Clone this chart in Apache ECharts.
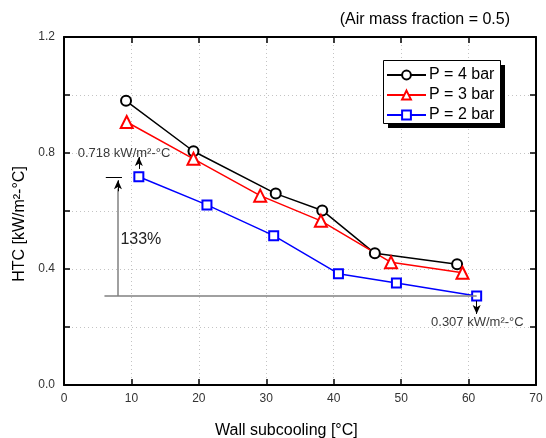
<!DOCTYPE html>
<html>
<head>
<meta charset="utf-8">
<script src="https://cdn.jsdelivr.net/npm/echarts@6/dist/echarts.min.js"></script>
<style>
  html, body { margin: 0; padding: 0; background: #fff; }
  #chart { width: 546px; height: 438px; }
</style>
</head>
<body>
<div id="chart"></div>
<script>
// Wall subcooling [°C] and heat transfer coefficient [kW/m²-°C] per pressure
const seriesNames = ['P = 4 bar', 'P = 3 bar', 'P = 2 bar'];
const subcooling4 = [9.2, 19.2, 31.4, 38.3, 46.1, 58.3];
const htc4 = [0.980, 0.806, 0.660, 0.602, 0.454, 0.416];
const subcooling3 = [9.3, 19.2, 29.1, 38.1, 48.5, 59.1];
const htc3 = [0.907, 0.780, 0.653, 0.566, 0.423, 0.387];
const subcooling2 = [11.1, 21.2, 31.1, 40.7, 49.3, 61.2];
const htc2 = [0.718, 0.621, 0.515, 0.384, 0.352, 0.307];

// Axis ranges and labelled ticks
const xRange = [0, 70];
const xStep = 10;
const yRange = [0, 1.2];
const yStep = 0.2;
const yLabelled = [0.0, 0.4, 0.8, 1.2];

// Annotation values (max / min HTC at 2 bar and relative increase)
const refHigh = htc2[0];
const refLow = htc2[htc2.length - 1];
const gainLabel = '133%';
const unitText = 'kW/m²-°C';

const pairs = (xs, ys) => xs.map((x, i) => [x, ys[i]]);

const chart = echarts.init(document.getElementById('chart'), null, { renderer: 'canvas' });

const font = 'Liberation Sans, Arial, sans-serif';
const gridLine = { show: true, lineStyle: { color: '#c4c4c4', type: [1, 3], width: 1 } };
const frameLine = { show: true, onZero: false, lineStyle: { color: '#000', width: 2 } };
const innerTick = { show: true, inside: true, length: 6, lineStyle: { color: '#000', width: 1.5 } };

const lineSeries = (name, data, color, symbol, size) => ({
  name, type: 'line', data,
  symbol, symbolSize: size,
  showAllSymbol: true,
  lineStyle: { color, width: 1.5 },
  itemStyle: { color: '#fff', borderColor: color, borderWidth: 2 },
  emphasis: { disabled: true },
  z: 3
});

const xFirst = subcooling2[0];
const xLast = subcooling2[subcooling2.length - 1];
const arrowX = xFirst - 3.1;

const plain = (p) => ({ coord: p, symbol: 'none' });
const arrowEnd = (p) => ({ coord: p, symbol: 'arrow', symbolSize: [6, 9] });

const annotations = {
  name: 'annotations', type: 'line', data: [], silent: true, z: 2,
  markLine: {
    silent: true, animation: false, symbol: ['none', 'none'],
    label: { show: false },
    emphasis: { disabled: true },
    data: [
      // baseline at the lowest 2 bar value
      [Object.assign(plain([arrowX - 2, refLow]), { lineStyle: { color: '#808080', width: 1.5, type: 'solid' } }),
       plain([xLast, refLow])],
      // short marker at the highest 2 bar value
      [Object.assign(plain([arrowX - 1.8, refHigh]), { lineStyle: { color: '#000', width: 1, type: 'solid' } }),
       plain([arrowX + 0.6, refHigh])],
      // rising gap arrow
      [Object.assign(plain([arrowX, refLow]), { lineStyle: { color: '#808080', width: 1.5, type: 'solid' } }),
       plain([arrowX, refHigh - 0.04])],
      [Object.assign(plain([arrowX, refHigh - 0.05]), { lineStyle: { color: '#000', width: 1, type: 'solid' } }),
       arrowEnd([arrowX, refHigh - 0.012])],
      // pointer to the upper value label
      [Object.assign(plain([xFirst, refHigh + 0.027]), { lineStyle: { color: '#000', width: 1, type: 'solid' } }),
       arrowEnd([xFirst, refHigh + 0.068])],
      // pointer to the lower value label
      [Object.assign(plain([xLast, refLow - 0.017]), { lineStyle: { color: '#000', width: 1, type: 'solid' } }),
       arrowEnd([xLast, refLow - 0.062])]
    ]
  },
  markPoint: {
    silent: true, animation: false, symbol: 'circle', symbolSize: 0,
    label: { show: true, position: 'inside', fontFamily: font, color: '#3a3a3a', fontSize: 13 },
    data: [
      { coord: [xFirst - 2.2, refHigh + 0.082], label: { formatter: refHigh.toFixed(3) + ' ' + unitText } },
      { coord: [xLast + 0.1, refLow - 0.092], label: { formatter: refLow.toFixed(3) + ' ' + unitText } },
      { coord: [arrowX + 3.4, (refHigh + refLow) / 2 - 0.01], label: { formatter: gainLabel, fontSize: 16, color: '#222' } }
    ]
  }
};

const option = {
  animation: false,
  backgroundColor: '#fff',
  textStyle: { fontFamily: font },
  grid: { left: 64, right: 10, top: 37, bottom: 53, containLabel: false },
  legend: {
    data: seriesNames,
    orient: 'vertical',
    left: 383, top: 65,
    padding: [2, 8, 2, 3],
    itemGap: 4,
    itemWidth: 39, itemHeight: 11,
    textStyle: { fontSize: 16, lineHeight: 16, color: '#000', fontFamily: font, padding: [0, 0, 0, -2] },
    selectedMode: false,
    z: 6
  },
  graphic: [
    { type: 'text', right: 36, top: 12, style: { text: '(Air mass fraction = 0.5)', font: '16px ' + font, fill: '#000' } },
    { type: 'text', left: 215, top: 423, style: { text: 'Wall subcooling [°C]', font: '16px ' + font, fill: '#000' } },
    { type: 'text', x: 12, y: 224, rotation: Math.PI / 2,
      style: { text: 'HTC [' + unitText + ']', font: '16px ' + font, fill: '#000', align: 'center', verticalAlign: 'top' } },
    // legend frame with a solid drop shadow
    { type: 'rect', left: 388, top: 65, z: 5, shape: { width: 117, height: 63 }, style: { fill: '#000' } },
    { type: 'rect', left: 383, top: 60, z: 5, shape: { width: 117, height: 63 }, style: { fill: '#fff', stroke: '#000', lineWidth: 1 } }
  ],
  xAxis: [
    {
      type: 'value', min: xRange[0], max: xRange[1], interval: xStep,
      axisLine: frameLine, axisTick: innerTick, splitLine: gridLine,
      axisLabel: { color: '#333', fontSize: 12, margin: 8, fontFamily: font }
    },
    {
      type: 'value', position: 'top', min: xRange[0], max: xRange[1], interval: xStep,
      axisLine: frameLine, axisTick: innerTick, splitLine: { show: false }, axisLabel: { show: false }
    }
  ],
  yAxis: [
    {
      type: 'value', min: yRange[0], max: yRange[1], interval: yStep,
      axisLine: frameLine, axisTick: innerTick, splitLine: gridLine,
      axisLabel: {
        color: '#333', fontSize: 12, margin: 9, fontFamily: font,
        formatter: (v) => yLabelled.some((t) => Math.abs(t - v) < 1e-6) ? v.toFixed(1) : ''
      }
    },
    {
      type: 'value', position: 'right', min: yRange[0], max: yRange[1], interval: yStep,
      axisLine: frameLine, axisTick: innerTick, splitLine: { show: false }, axisLabel: { show: false }
    }
  ],
  series: [
    annotations,
    lineSeries(seriesNames[0], pairs(subcooling4, htc4), '#000000', 'circle', 10),
    lineSeries(seriesNames[1], pairs(subcooling3, htc3), '#ff0000', 'triangle', 12),
    lineSeries(seriesNames[2], pairs(subcooling2, htc2), '#0000ff', 'rect', 9)
  ]
};

chart.setOption(option);
</script>
</body>
</html>
